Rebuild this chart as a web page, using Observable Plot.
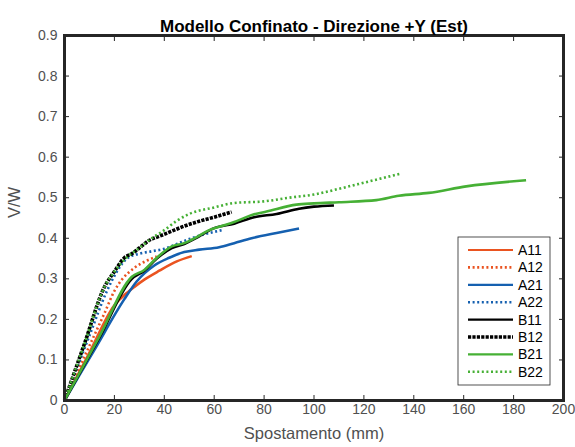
<!DOCTYPE html>
<html>
<head>
<meta charset="utf-8">
<script src="https://cdn.jsdelivr.net/npm/d3@7"></script>
<script src="https://cdn.jsdelivr.net/npm/@observablehq/plot@0.6"></script>
<style>
  html, body { margin: 0; padding: 0; background: #fff; }
  #chart svg { display: block; }
</style>
</head>
<body>
<div id="chart"></div>
<script>
const title = "Modello Confinato - Direzione +Y (Est)";
const xLabel = "Spostamento (mm)";
const yLabel = "V/W";
const xTicks = [0, 20, 40, 60, 80, 100, 120, 140, 160, 180, 200];
const yTicks = [0, 0.1, 0.2, 0.3, 0.4, 0.5, 0.6, 0.7, 0.8, 0.9];

const seriesNames = ["A11", "A12", "A21", "A22", "B11", "B12", "B21", "B22"];
const seriesColors = ["#ea5320", "#ea5320", "#1560b0", "#1560b0", "#000000", "#000000", "#46b035", "#46b035"];
const seriesStyles = ["solid", "dotted", "solid", "dotted", "solid", "thick", "solid", "dotted"];

const A11_x = [0, 10, 20, 24, 28, 32, 38, 45, 51];
const A11_y = [0, 0.118, 0.235, 0.26, 0.28, 0.298, 0.32, 0.343, 0.356];

const A12_x = [0, 10, 16, 20, 23, 28, 33, 37];
const A12_y = [0, 0.135, 0.215, 0.27, 0.298, 0.327, 0.345, 0.355];

const A21_x = [0, 12, 24, 29, 36, 42, 48, 54, 62, 68, 75, 85, 94];
const A21_y = [0, 0.125, 0.25, 0.294, 0.333, 0.352, 0.366, 0.372, 0.378, 0.388, 0.4, 0.413, 0.424];

const A22_x = [0, 10, 17, 21, 25, 30, 35, 40, 45, 50, 55, 63];
const A22_y = [0, 0.16, 0.27, 0.318, 0.35, 0.362, 0.368, 0.374, 0.386, 0.398, 0.408, 0.42];

const B11_x = [0, 14, 27, 32, 37, 43, 48, 54, 60, 68, 76, 85, 94, 100, 108];
const B11_y = [0, 0.155, 0.3, 0.32, 0.35, 0.376, 0.386, 0.405, 0.425, 0.436, 0.452, 0.46, 0.473, 0.478, 0.481];

const B12_x = [0, 8, 16, 20, 24, 27, 30, 34, 38, 42, 48, 54, 60, 67];
const B12_y = [0, 0.14, 0.28, 0.318, 0.352, 0.362, 0.376, 0.395, 0.405, 0.415, 0.43, 0.442, 0.452, 0.465];

const B21_x = [0, 14, 27, 32, 37, 43, 48, 53, 58, 63, 68, 76, 81, 93, 100, 110, 125, 134, 146, 161, 185];
const B21_y = [0, 0.158, 0.305, 0.322, 0.352, 0.38, 0.388, 0.403, 0.42, 0.43, 0.44, 0.459, 0.466, 0.483, 0.486, 0.489, 0.494, 0.505, 0.512, 0.528, 0.543];

const B22_x = [0, 8, 16, 20, 25, 30, 35, 40, 45, 50, 60, 68, 80, 90, 100, 110, 120, 135];
const B22_y = [0, 0.14, 0.28, 0.318, 0.353, 0.376, 0.4, 0.42, 0.443, 0.46, 0.476, 0.487, 0.491, 0.5, 0.508, 0.522, 0.537, 0.56];

const seriesX = [A11_x, A12_x, A21_x, A22_x, B11_x, B12_x, B21_x, B22_x];
const seriesY = [A11_y, A12_y, A21_y, A22_y, B11_y, B12_y, B21_y, B22_y];

const styleOpts = {
  solid: {strokeWidth: 2.6},
  dotted: {strokeWidth: 2.6, strokeDasharray: "2 2.6"},
  thick: {strokeWidth: 3.6, strokeDasharray: "3.2 1.2"}
};

const lineMarks = seriesNames.map((name, i) => {
  const data = seriesX[i].map((x, j) => ({x, y: seriesY[i][j]}));
  return Plot.line(data, {
    x: "x", y: "y",
    stroke: seriesColors[i],
    strokeLinejoin: "round",
    strokeLinecap: "butt",
    curve: "monotone-x",
    ...styleOpts[seriesStyles[i]]
  });
});

const gray = "#505050";
const fontFam = "'Liberation Sans', Arial, Helvetica, sans-serif";

const chart = Plot.plot({
  width: 575,
  height: 447,
  marginLeft: 64,
  marginRight: 12,
  marginTop: 35,
  marginBottom: 47,
  style: {fontFamily: fontFam, fontSize: "14px", background: "#fff"},
  x: {domain: [0, 200]},
  y: {domain: [0, 0.9]},
  marks: [
    ...lineMarks,
    // inward ticks on all four sides
    Plot.axisX({anchor: "bottom", ticks: xTicks, tickSize: 5, dy: -5, tickFormat: () => "", label: null, stroke: "#262626"}),
    Plot.axisX({anchor: "top", ticks: xTicks, tickSize: 5, dy: 5, tickFormat: () => "", label: null, stroke: "#262626"}),
    Plot.axisY({anchor: "left", ticks: yTicks, tickSize: 5, dx: 5, tickFormat: () => "", label: null, stroke: "#262626"}),
    Plot.axisY({anchor: "right", ticks: yTicks, tickSize: 5, dx: -5, tickFormat: () => "", label: null, stroke: "#262626"}),
    // tick labels
    Plot.axisX({anchor: "bottom", ticks: xTicks, tickSize: 0, tickPadding: 4, tickFormat: d => String(d), label: null, fill: gray, fontSize: 14}),
    Plot.axisY({anchor: "left", ticks: yTicks, tickSize: 0, tickPadding: 7, tickFormat: d => d === 0 ? "0" : d3.format(".1f")(d), label: null, fill: gray, fontSize: 14}),
    Plot.frame({stroke: "#262626", strokeWidth: 3}),
    Plot.text([title], {frameAnchor: "top", dy: -16, text: d => d, fontWeight: "bold", fontSize: 17, fill: "#000"}),
    Plot.text([xLabel], {frameAnchor: "bottom", dy: 38, text: d => d, fontSize: 16.5, fill: gray}),
    Plot.text([yLabel], {frameAnchor: "left", dx: -50, text: d => d, rotate: -90, fontSize: 16.5, fill: gray})
  ]
});

// Legend (drawn in the SVG, bottom-right inside the axes)
const svg = d3.select(chart);
const lg = svg.append("g").attr("font-family", fontFam).attr("font-size", 14).attr("text-anchor", "start");
const bx = 458, by = 237, bw = 92, bh = 148;
lg.append("rect").attr("x", bx).attr("y", by).attr("width", bw).attr("height", bh)
  .attr("fill", "#fff").attr("stroke", "#262626").attr("stroke-width", 0.8);
seriesNames.forEach((name, i) => {
  const cy = 250 + i * 17.4;
  const st = styleOpts[seriesStyles[i]];
  lg.append("line").attr("x1", 468).attr("x2", 513).attr("y1", cy).attr("y2", cy)
    .attr("stroke", seriesColors[i])
    .attr("stroke-width", seriesStyles[i] === "solid" ? 2.2 : st.strokeWidth)
    .attr("stroke-dasharray", st.strokeDasharray || null);
  lg.append("text").attr("x", 518).attr("y", cy).attr("dy", "0.36em")
    .attr("text-anchor", "start").attr("fill", "#000").text(name);
});

document.getElementById("chart").appendChild(chart);
</script>
</body>
</html>
